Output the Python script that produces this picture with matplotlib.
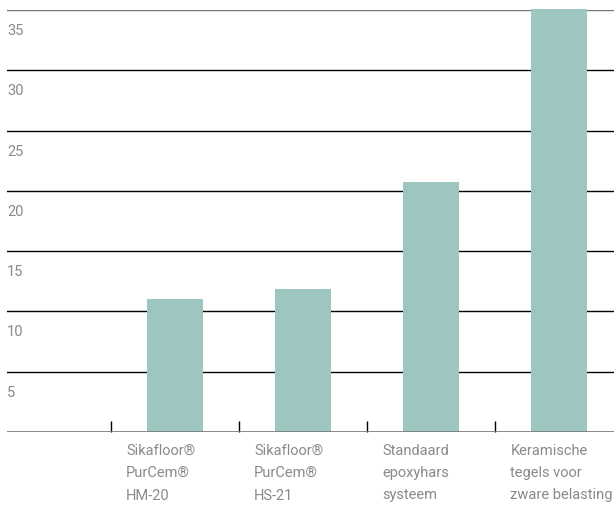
import matplotlib
matplotlib.use("Agg")
import matplotlib.pyplot as plt
from matplotlib.transforms import offset_copy

categories = [
    "Sikafloor®\nPurCem®\nHM-20",
    "Sikafloor®\nPurCem®\nHS-21",
    "Standaard\nepoxyhars\nsysteem",
    "Keramische\ntegels voor\nzware belasting",
]
values = [11.0, 11.9, 20.7, 35.1]
y_ticks = [5, 10, 15, 20, 25, 30, 35]

plt.rcParams["font.family"] = ["Roboto", "DejaVu Sans"]

BAR = "#9cc6bf"
TEXT = "#8a8a8a"

fig = plt.figure(figsize=(6.14, 5.18), dpi=100)
ax = fig.add_axes([7 / 614, 1 - 432 / 518, 1 - 7 / 614, 422 / 518])

x = list(range(len(categories)))
ax.bar(x, values, width=0.44, color=BAR, zorder=3, clip_on=False)

ax.set_xlim(-1.31, 3.43)
ax.set_ylim(0, 35)

# inner grid lines black, top and base line grey
for v in y_ticks[:-1]:
    ax.axhline(v, color="black", linewidth=1.0, zorder=2)
ax.axhline(35, color="#777777", linewidth=1.0, zorder=2)
ax.axhline(0, color="#777777", linewidth=1.2, zorder=4)

for s in ax.spines.values():
    s.set_visible(False)
ax.set_yticks([])
ax.set_xticks([i - 0.5 for i in x])
ax.set_xticklabels([])
ax.tick_params(axis="x", direction="in", length=8, width=1, color="black")

# value labels sit below their grid line
ytrans = offset_copy(ax.get_yaxis_transform(), fig=fig, y=-21, units="dots")
for v in y_ticks:
    ax.text(0.0, v, str(v), transform=ytrans,
            ha="left", va="center", fontsize=10.5, color=TEXT)

xtrans = offset_copy(ax.transData, fig=fig, y=-12, units="dots")
for i, lab in enumerate(categories):
    ax.text(i - 0.38, 0, lab, transform=xtrans,
            ha="left", va="top", fontsize=10.5, color=TEXT, linespacing=1.75)

fig.savefig("out.png", dpi=100, facecolor="white")
